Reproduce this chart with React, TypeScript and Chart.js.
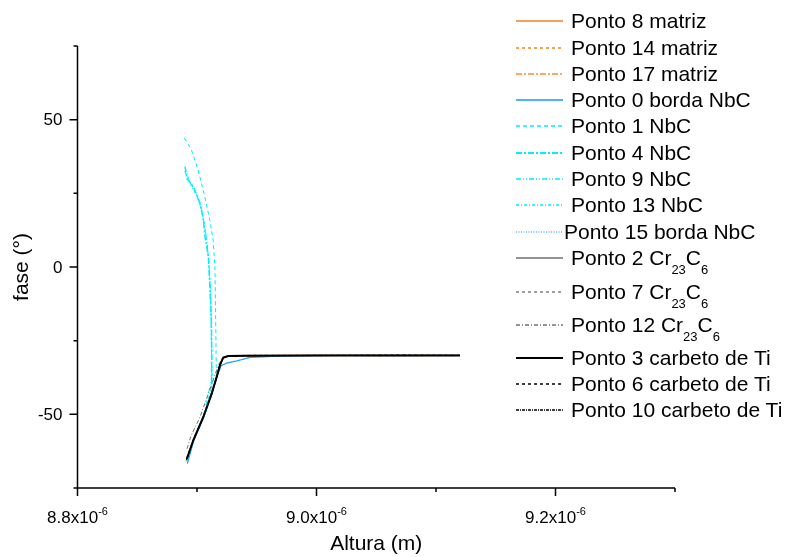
import React, { useEffect, useRef } from 'react';
import { Chart, registerables } from 'chart.js';

Chart.register(...registerables);

// ---------- axis ticks (x in units of 1e-6 m) ----------
const xMin = 8.8;
const xMax = 9.3;
const yMin = -75;
const yMax = 75;
const xMajorTicks = [8.8, 9.0, 9.2];
const xMajorLabels = ['8.8x10', '9.0x10', '9.2x10'];
const xLabelExponent = '-6';
const xMinorTicks = [8.9, 9.1, 9.3];
const yMajorTicks = [-50, 0, 50];
const yMajorLabels = ['-50', '0', '50'];
const yMinorTicks = [-75, -25, 25, 75];
const xTitle = 'Altura (m)';
const yTitle = 'fase (°)';

// ---------- series (x: 1e-6 m, y: degrees) ----------
const ponto8X = [8.8910, 8.8963, 8.9048, 8.9118, 8.9161, 8.9189, 8.9218, 8.9262, 8.9500, 9.0200, 9.0800, 9.1200];
const ponto8Y = [-65.8, -59.5, -51.4, -43.5, -37.8, -33.6, -30.9, -30.3, -30.1, -30.0, -30.0, -30.0];
const ponto14X = [8.8913, 8.8966, 8.9050, 8.9120, 8.9163, 8.9191, 8.9219, 8.9263, 8.9450, 9.0100, 9.0700, 9.1200];
const ponto14Y = [-65.4, -59.1, -51.1, -43.2, -37.5, -33.4, -30.8, -30.2, -30.0, -30.0, -30.0, -30.0];
const ponto17X = [8.8909, 8.8961, 8.9046, 8.9116, 8.9160, 8.9188, 8.9217, 8.9261, 8.9480, 9.0150, 9.0750, 9.1200];
const ponto17Y = [-66.0, -59.7, -51.6, -43.6, -37.9, -33.7, -31.0, -30.3, -30.1, -30.0, -30.0, -30.0];

const ponto0X = [8.8919, 8.8972, 8.9056, 8.9125, 8.9168, 8.9201, 8.9250, 8.9332, 8.9444, 8.9720, 9.0200, 9.0800, 9.1200];
const ponto0Y = [-66.7, -59.0, -51.0, -43.0, -37.0, -33.5, -32.6, -31.9, -30.7, -30.2, -30.0, -30.0, -30.0];
const ponto1X = [8.8894, 8.8953, 8.9009, 8.9065, 8.9107, 8.9135, 8.9150, 8.9155, 8.9160, 8.9162, 8.9123, 8.9053, 8.8969, 8.8918];
const ponto1Y = [43.8, 39.8, 33.0, 23.9, 16.0, 9.2, 0.0, -13.5, -30.5, -37.0, -43.0, -50.9, -58.8, -65.5];
const ponto4X = [8.8900, 8.8915, 8.8970, 8.9025, 8.9053, 8.9067, 8.9095, 8.9109, 8.9121, 8.9123, 8.9122, 8.9052, 8.8968, 8.8917];
const ponto4Y = [34.1, 30.0, 27.3, 21.7, 16.0, 10.3, 3.5, -7.8, -19.0, -31.0, -43.0, -51.0, -59.0, -65.8];
const ponto9X = [8.8898, 8.8935, 8.8990, 8.9040, 8.9075, 8.9100, 8.9115, 8.9120, 8.9122, 8.9054, 8.8970, 8.8919];
const ponto9Y = [32.5, 29.0, 25.5, 19.5, 11.0, 2.0, -10.0, -25.0, -38.0, -50.8, -58.7, -65.4];
const ponto13X = [8.8902, 8.8945, 8.9000, 8.9048, 8.9085, 8.9105, 8.9118, 8.9125, 8.9128, 8.9055, 8.8971, 8.8920];
const ponto13Y = [33.5, 28.0, 24.0, 18.0, 8.0, -2.0, -15.0, -30.0, -40.0, -50.6, -58.6, -65.2];
const ponto15X = [8.8920, 8.8974, 8.9058, 8.9127, 8.9170, 8.9205, 8.9260, 8.9340, 8.9460, 8.9750, 9.0300, 9.0900, 9.1200];
const ponto15Y = [-66.0, -58.6, -50.7, -42.7, -36.8, -33.4, -32.4, -31.6, -30.6, -30.2, -30.0, -30.0, -30.0];

const ponto2X = [8.8914, 8.8968, 8.9052, 8.9122, 8.9164, 8.9191, 8.9219, 8.9261, 8.9420, 9.0050, 9.0650, 9.1200];
const ponto2Y = [-65.2, -58.9, -51.0, -43.1, -37.4, -33.4, -30.8, -30.2, -30.1, -30.0, -30.0, -30.0];
const ponto7X = [8.8912, 8.8966, 8.9051, 8.9121, 8.9164, 8.9190, 8.9219, 8.9262, 8.9460, 9.0120, 9.0720, 9.1200];
const ponto7Y = [-65.0, -58.7, -50.8, -42.9, -37.2, -33.2, -30.7, -30.2, -30.0, -30.0, -30.0, -30.0];
const ponto12X = [8.8916, 8.8948, 8.9025, 8.9095, 8.9145, 8.9180, 8.9212, 8.9258, 8.9400, 9.0000, 9.0600, 9.1200];
const ponto12Y = [-61.7, -57.5, -50.9, -43.0, -37.3, -33.3, -30.7, -30.2, -30.1, -30.0, -30.0, -30.0];

const ponto3X = [8.8915, 8.8969, 8.9053, 8.9123, 8.9165, 8.9192, 8.9220, 8.9262, 8.9400, 9.0000, 9.0600, 9.1200];
const ponto3Y = [-65.1, -58.8, -50.9, -43.0, -37.3, -33.3, -30.7, -30.2, -30.1, -30.0, -30.0, -30.0];
const ponto6X = [8.8912, 8.8965, 8.9050, 8.9120, 8.9163, 8.9190, 8.9218, 8.9260, 8.9450, 9.0100, 9.0700, 9.1200];
const ponto6Y = [-65.5, -59.2, -51.2, -43.3, -37.6, -33.5, -30.9, -30.3, -30.1, -30.0, -29.9, -30.0];
const ponto10X = [8.8918, 8.8972, 8.9056, 8.9125, 8.9167, 8.9195, 8.9223, 8.9265, 8.9420, 9.0050, 9.0650, 9.1200];
const ponto10Y = [-64.8, -58.5, -50.6, -42.8, -37.1, -33.1, -30.6, -30.1, -30.0, -30.0, -30.1, -30.0];

const seriesNames = [
  'Ponto 8 matriz', 'Ponto 14 matriz', 'Ponto 17 matriz',
  'Ponto 0 borda NbC', 'Ponto 1 NbC', 'Ponto 4 NbC', 'Ponto 9 NbC', 'Ponto 13 NbC', 'Ponto 15 borda NbC',
  'Ponto 2 Cr_23C_6', 'Ponto 7 Cr_23C_6', 'Ponto 12 Cr_23C_6',
  'Ponto 3 carbeto de Ti', 'Ponto 6 carbeto de Ti', 'Ponto 10 carbeto de Ti',
];
const seriesXs = [ponto8X, ponto14X, ponto17X, ponto0X, ponto1X, ponto4X, ponto9X, ponto13X, ponto15X, ponto2X, ponto7X, ponto12X, ponto3X, ponto6X, ponto10X];
const seriesYs = [ponto8Y, ponto14Y, ponto17Y, ponto0Y, ponto1Y, ponto4Y, ponto9Y, ponto13Y, ponto15Y, ponto2Y, ponto7Y, ponto12Y, ponto3Y, ponto6Y, ponto10Y];

// ---------- styles ----------
type Sty = { color: string; width: number; dash: number[] };
const seriesStyles: Sty[] = [
  { color: '#F7821E', width: 1.2, dash: [] },
  { color: '#F7821E', width: 1, dash: [3, 3] },
  { color: '#FFA860', width: 1.5, dash: [6, 2, 2, 2] },
  { color: '#1496FF', width: 1.2, dash: [] },
  { color: '#00EEFF', width: 1, dash: [4, 3] },
  { color: '#00EEFF', width: 1.5, dash: [6, 2, 2, 2] },
  { color: '#00EEFF', width: 1, dash: [5, 2, 1, 2, 1, 2] },
  { color: '#00EEFF', width: 1, dash: [3, 2, 1, 2] },
  { color: '#5AB4FF', width: 1, dash: [1, 1.5] },
  { color: '#707070', width: 1, dash: [] },
  { color: '#808080', width: 1, dash: [3, 3] },
  { color: '#707070', width: 1, dash: [4, 2, 1, 2] },
  { color: '#000000', width: 2, dash: [] },
  { color: '#000000', width: 1, dash: [3, 3] },
  { color: '#000000', width: 1, dash: [3, 1, 1, 1] },
];

// ---------- layout ----------
const W = 788;
const H = 557;
const AREA = { left: 77.5, top: 46, right: 675, bottom: 488 };
const FONT = '"Liberation Sans", Arial, Helvetica, sans-serif';
const legendRowCenters = [21, 48, 74, 100, 126, 153, 179, 205, 232, 258, 292, 325, 358, 384, 410];
const legendLineX1 = 516;
const legendLineX2 = 563;
const legendTextX = 571;

const axesPlugin = {
  id: 'originAxes',
  afterDraw(chart: any) {
    const ctx: CanvasRenderingContext2D = chart.ctx;
    const xs = chart.scales.x;
    const ys = chart.scales.y;
    const a = chart.chartArea;
    ctx.save();
    ctx.strokeStyle = '#000';
    ctx.fillStyle = '#000';
    ctx.lineWidth = 1.5;
    ctx.setLineDash([]);
    ctx.beginPath();
    ctx.moveTo(a.left, a.top);
    ctx.lineTo(a.left, a.bottom);
    ctx.lineTo(a.right, a.bottom);
    ctx.stroke();
    ctx.beginPath();
    yMajorTicks.forEach((v) => {
      const p = ys.getPixelForValue(v);
      ctx.moveTo(a.left - 8, p);
      ctx.lineTo(a.left, p);
    });
    yMinorTicks.forEach((v) => {
      const p = ys.getPixelForValue(v);
      ctx.moveTo(a.left - 4, p);
      ctx.lineTo(a.left, p);
    });
    xMajorTicks.forEach((v) => {
      const p = xs.getPixelForValue(v);
      ctx.moveTo(p, a.bottom);
      ctx.lineTo(p, a.bottom + 8);
    });
    xMinorTicks.forEach((v) => {
      const p = xs.getPixelForValue(v);
      ctx.moveTo(p, a.bottom);
      ctx.lineTo(p, a.bottom + 4);
    });
    ctx.stroke();

    // y labels
    ctx.font = `17px ${FONT}`;
    ctx.textAlign = 'right';
    ctx.textBaseline = 'middle';
    yMajorTicks.forEach((v, i) => {
      ctx.fillText(yMajorLabels[i], a.left - 15, ys.getPixelForValue(v) + 1);
    });
    // x labels with superscript exponent
    ctx.textAlign = 'left';
    ctx.textBaseline = 'alphabetic';
    xMajorTicks.forEach((v, i) => {
      const p = xs.getPixelForValue(v);
      ctx.font = `17px ${FONT}`;
      const w1 = ctx.measureText(xMajorLabels[i]).width;
      ctx.font = `11px ${FONT}`;
      const w2 = ctx.measureText(xLabelExponent).width;
      const x0 = p - (w1 + w2) / 2;
      ctx.font = `17px ${FONT}`;
      ctx.fillText(xMajorLabels[i], x0, a.bottom + 35);
      ctx.font = `11px ${FONT}`;
      ctx.fillText(xLabelExponent, x0 + w1, a.bottom + 27);
    });
    // titles
    ctx.font = `21px ${FONT}`;
    ctx.textAlign = 'center';
    ctx.textBaseline = 'middle';
    ctx.fillText(xTitle, (a.left + a.right) / 2, a.bottom + 56);
    ctx.translate(22, (a.top + a.bottom) / 2);
    ctx.rotate(-Math.PI / 2);
    ctx.fillText(yTitle, 0, 0);
    ctx.restore();
  },
};

function LegendLabel({ text }: { text: string }) {
  const parts = text.split(/_(\d+)/);
  return (
    <>
      {parts.map((p, i) =>
        i % 2 === 1 ? (
          <span key={i} style={{ fontSize: 13, position: 'relative', top: 9 }}>{p}</span>
        ) : (
          <span key={i}>{p}</span>
        )
      )}
    </>
  );
}

export default function App() {
  const canvasRef = useRef<HTMLCanvasElement | null>(null);

  useEffect(() => {
    if (!canvasRef.current) return;
    const datasets = seriesNames.map((name, i) => ({
      label: name,
      data: seriesXs[i].map((x, j) => ({ x, y: seriesYs[i][j] })),
      borderColor: seriesStyles[i].color,
      borderWidth: seriesStyles[i].width,
      borderDash: seriesStyles[i].dash,
      pointRadius: 0,
      fill: false,
      tension: 0,
      order: seriesNames.length - i,
    }));
    const chart = new Chart(canvasRef.current, {
      type: 'line',
      data: { datasets },
      options: {
        animation: false,
        responsive: false,
        maintainAspectRatio: false,
        devicePixelRatio: 1,
        layout: {
          padding: { left: AREA.left, top: AREA.top, right: W - AREA.right, bottom: H - AREA.bottom },
        },
        plugins: { legend: { display: false }, tooltip: { enabled: false } },
        scales: {
          x: { type: 'linear', display: false, min: xMin, max: xMax },
          y: { type: 'linear', display: false, min: yMin, max: yMax },
        },
      },
      plugins: [axesPlugin],
    });
    return () => chart.destroy();
  }, []);

  return (
    <div style={{ position: 'absolute', left: 0, top: 0, width: W, height: H, background: '#fff', fontFamily: FONT }}>
      <canvas ref={canvasRef} width={W} height={H} style={{ position: 'absolute', left: 0, top: 0 }} />
      {seriesNames.map((name, i) => {
        const cy = legendRowCenters[i];
        const s = seriesStyles[i];
        const lw = s.width >= 1.5 ? 2 : 1.5;
        return (
          <div key={name} style={{ position: 'absolute', left: 0, top: 0 }}>
            <svg
              width={legendLineX2 - legendLineX1}
              height={6}
              style={{ position: 'absolute', left: legendLineX1, top: cy - 3 }}
            >
              <line
                x1={0}
                y1={3}
                x2={legendLineX2 - legendLineX1}
                y2={3}
                stroke={s.color}
                strokeWidth={lw}
                strokeDasharray={s.dash.length ? s.dash.join(' ') : undefined}
              />
            </svg>
            <div
              style={{
                position: 'absolute',
                left: name.startsWith('Ponto 15') ? legendTextX - 7 : legendTextX,
                top: cy - 12,
                fontSize: 21,
                lineHeight: '24px',
                whiteSpace: 'nowrap',
                color: '#000',
              }}
            >
              <LegendLabel text={name} />
            </div>
          </div>
        );
      })}
    </div>
  );
}
